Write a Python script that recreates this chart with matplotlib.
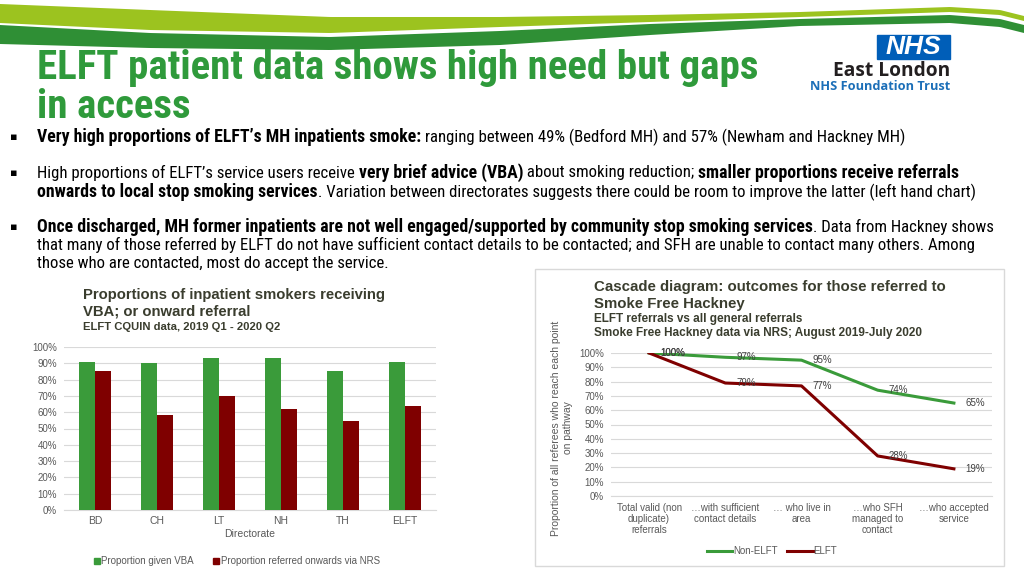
import matplotlib
matplotlib.use('Agg')
import matplotlib.pyplot as plt
import matplotlib.patches as patches
from matplotlib.lines import Line2D
from matplotlib import font_manager as fm
import numpy as np

W, H = 1024, 576

# left chart data
directorates = ['BD', 'CH', 'LT', 'NH', 'TH', 'ELFT']
vba = [91, 90, 93, 93, 85, 90.5]
nrs = [85, 58, 70, 62, 54.5, 64]

# right chart data
stages = ['Total valid (non\nduplicate)\nreferrals', '…with sufficient\ncontact details',
          '… who live in\narea', '…who SFH\nmanaged to\ncontact', '…who accepted\nservice']
non_elft = [100, 97, 95, 74, 65]
elft = [100, 79, 77, 28, 19]

GREEN = '#3a9b3a'
RED = '#7f0000'
GRID = '#d9d9d9'
TICK = '#595959'
HEAD = '#3a3d2e'
SANS = ['Liberation Sans', 'DejaVu Sans']

have = {f.name for f in fm.fontManager.ttflist}
narrow_pick = [n for n in ['Liberation Sans Narrow', 'Arial Narrow', 'Roboto Condensed',
                           'PT Sans Narrow', 'Archivo Narrow'] if n in have]
NARROW = narrow_pick[:1] + ['DejaVu Sans']


def box(x0, y0, x1, y1):
    # pixel box (top-left origin) -> figure fraction rect
    return [x0 / W, 1 - y1 / H, (x1 - x0) / W, (y1 - y0) / H]


def ftext(x, y, s, **kw):
    return fig.text(x / W, 1 - y / H, s, **kw)


fig = plt.figure(figsize=(W / 100, H / 100), dpi=100)
fig.patch.set_facecolor('white')

# decorative swoosh at the top
deco = fig.add_axes([0, 0, 1, 1], zorder=-5)
deco.set_xlim(0, W)
deco.set_ylim(H, 0)
deco.axis('off')
xs = np.linspace(0, W, 400)
cx = [0, 150, 330, 500, 650, 800, 950, 1000, 1024]
lt = [4, 10, 17, 17, 15, 12, 7, 10, 16]
lb = [23, 30, 33, 27, 22, 17, 12, 15, 21]
dt = [25, 33, 37, 31, 24, 19, 15, 19, 25]
db = [44, 48, 50, 45, 35, 26, 23, 27, 33]
deco.fill_between(xs, np.interp(xs, cx, lt), np.interp(xs, cx, lb), color='#9cc31f', lw=0)
deco.fill_between(xs, np.interp(xs, cx, dt), np.interp(xs, cx, db), color='#2f8f35', lw=0)

# title
ftext(37, 68, 'ELFT patient data shows high need but gaps', fontsize=29.5, fontweight='bold',
      color='#2f9a3b', family=NARROW, va='center')
ftext(37, 107, 'in access', fontsize=29.5, fontweight='bold',
      color='#2f9a3b', family=NARROW, va='center')

# logo
fig.patches.append(patches.Rectangle((877 / W, 1 - 59 / H), 73 / W, 24 / H,
                                     transform=fig.transFigure, color='#005eb8'))
ftext(913, 47, 'NHS', fontsize=19, fontweight='bold', style='italic', color='white',
      family=SANS, ha='center', va='center')
ftext(950, 71, 'East London', fontsize=13.8, fontweight='bold', color='#231f20',
      family=['Open Sans', 'DejaVu Sans'], ha='right', va='center')
ftext(950, 86, 'NHS Foundation Trust', fontsize=9.2, fontweight='bold', color='#1c6fb8',
      family=['Open Sans', 'DejaVu Sans'], ha='right', va='center')

# bullet text with mixed weights
renderer = fig.canvas.get_renderer()


def rich(y, parts, size=12.1):
    x = 37
    for txt, bold in parts:
        t = ftext(x, y, txt, fontsize=size + 0.7 if bold else size,
                  fontweight='bold' if bold else 'normal',
                  family=NARROW, va='center', color='black')
        x += t.get_window_extent(renderer=renderer).width


for yb in [137, 173, 227]:
    ftext(10, yb, '▪', fontsize=8, family=['DejaVu Sans'], va='center')

rich(137, [('Very high proportions of ELFT’s MH inpatients smoke:', True),
           (' ranging between 49% (Bedford MH) and 57% (Newham and Hackney MH)', False)])
rich(173, [('High proportions of ELFT’s service users receive ', False),
           ('very brief advice (VBA)', True),
           (' about smoking reduction; ', False),
           ('smaller proportions receive referrals', True)])
rich(192, [('onwards to local stop smoking services', True),
           ('. Variation between directorates suggests there could be room to improve the latter (left hand chart)', False)])
rich(227, [('Once discharged, MH former inpatients are not well engaged/supported by community stop smoking services', True),
           ('. Data from Hackney shows', False)])
rich(245, [('that many of those referred by ELFT do not have sufficient contact details to be contacted; and SFH are unable to contact many others. Among', False)])
rich(264, [('those who are contacted, most do accept the service.', False)])

# ---------- left chart ----------
ftext(83, 295, 'Proportions of inpatient smokers receiving', fontsize=10.75, fontweight='bold',
      color=HEAD, family=SANS, va='center')
ftext(83, 312, 'VBA; or onward referral', fontsize=10.75, fontweight='bold',
      color=HEAD, family=SANS, va='center')
ftext(83, 327, 'ELFT CQUIN data, 2019 Q1 - 2020 Q2', fontsize=8.1, fontweight='bold',
      color=HEAD, family=SANS, va='center')

ax1 = fig.add_axes(box(64, 347, 436, 510))
xi = np.arange(len(directorates))
bw = 0.26
ax1.bar(xi - bw / 2, vba, bw, color=GREEN, zorder=3)
ax1.bar(xi + bw / 2, nrs, bw, color=RED, zorder=3)
ax1.set_xlim(-0.5, len(directorates) - 0.5)
ax1.set_ylim(0, 100)
ax1.set_yticks(np.arange(0, 101, 10))
ax1.set_yticklabels([f'{v}%' for v in range(0, 101, 10)])
ax1.set_xticks(xi)
ax1.set_xticklabels(directorates)
ax1.grid(axis='y', color=GRID, lw=0.8, zorder=0)
for s in ax1.spines.values():
    s.set_visible(False)
ax1.spines['bottom'].set_visible(True)
ax1.spines['bottom'].set_color(GRID)
ax1.tick_params(length=0, labelsize=7, labelcolor=TICK, pad=5)
ax1.tick_params(axis='x', labelsize=7.5, pad=4)
for lab in ax1.get_xticklabels() + ax1.get_yticklabels():
    lab.set_family(SANS)
ftext(250, 534, 'Directorate', fontsize=7.5, color=TICK, family=SANS, ha='center', va='center')

h1 = [Line2D([], [], marker='s', ls='', color=GREEN, markersize=4.5),
      Line2D([], [], marker='s', ls='', color=RED, markersize=4.5)]
fig.legend(h1, ['Proportion given VBA', 'Proportion referred onwards via NRS'],
           loc='center', bbox_to_anchor=(237 / W, 1 - 561 / H), ncol=2, frameon=False,
           handlelength=0.6, handletextpad=0.2, columnspacing=2.0,
           prop={'family': SANS, 'size': 7}, labelcolor=TICK)

# ---------- right chart ----------
fig.patches.append(patches.Rectangle((535 / W, 1 - 566 / H), 469 / W, 297 / H,
                                     transform=fig.transFigure, fill=False,
                                     edgecolor=GRID, lw=1))
ftext(594, 287, 'Cascade diagram: outcomes for those referred to', fontsize=10.8, fontweight='bold',
      color=HEAD, family=SANS, va='center')
ftext(594, 304, 'Smoke Free Hackney', fontsize=10.8, fontweight='bold',
      color=HEAD, family=SANS, va='center')
ftext(594, 319, 'ELFT referrals vs all general referrals', fontsize=8.5, fontweight='bold',
      color=HEAD, family=SANS, va='center')
ftext(594, 333, 'Smoke Free Hackney data via NRS; August 2019-July 2020', fontsize=8.5,
      fontweight='bold', color=HEAD, family=SANS, va='center')

ax2 = fig.add_axes(box(611, 353, 992, 496))
xs2 = np.arange(len(stages))
ax2.plot(xs2, non_elft, color=GREEN, lw=2.2, zorder=3, label='Non-ELFT')
ax2.plot(xs2, elft, color=RED, lw=2.2, zorder=3, label='ELFT')
for series in (non_elft, elft):
    for xv, yv in zip(xs2, series):
        ax2.annotate(f'{yv}%', (xv, yv), xytext=(8, 0), textcoords='offset points',
                     ha='left', va='center', fontsize=7, color='#404040', family=SANS, zorder=4)
ax2.set_xlim(-0.5, len(stages) - 0.5)
ax2.set_ylim(0, 100)
ax2.set_yticks(np.arange(0, 101, 10))
ax2.set_yticklabels([f'{v}%' for v in range(0, 101, 10)])
ax2.set_xticks(xs2)
ax2.set_xticklabels(stages, linespacing=1.15)
ax2.grid(axis='y', color=GRID, lw=0.8, zorder=0)
for s in ax2.spines.values():
    s.set_visible(False)
ax2.spines['bottom'].set_visible(True)
ax2.spines['bottom'].set_color(GRID)
ax2.tick_params(length=0, labelsize=7, labelcolor=TICK, pad=5)
for lab in ax2.get_xticklabels() + ax2.get_yticklabels():
    lab.set_family(SANS)
ftext(562, 428, 'Proportion of all referees who reach each point\non pathway', fontsize=7.5,
      color=TICK, family=SANS, rotation=90, ha='center', va='center', multialignment='center')

fig.legend(handles=ax2.get_lines(), labels=['Non-ELFT', 'ELFT'], loc='center',
           bbox_to_anchor=(772 / W, 1 - 551 / H), ncol=2, frameon=False,
           handlelength=2.6, handletextpad=0.1, columnspacing=1.0,
           prop={'family': SANS, 'size': 7}, labelcolor=TICK)

fig.savefig('out.png', dpi=100)
